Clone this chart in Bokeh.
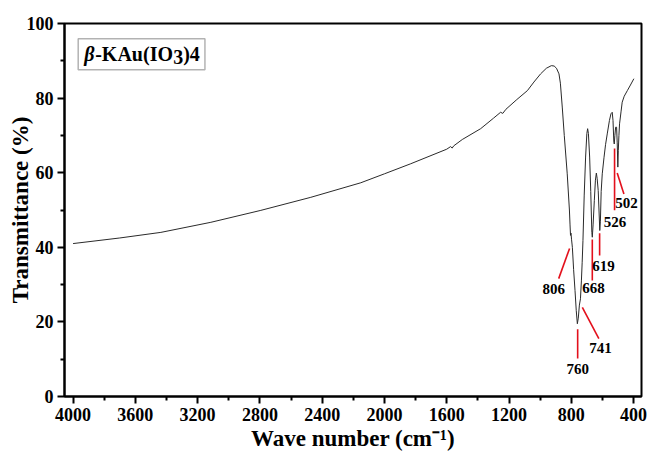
from bokeh.plotting import figure
from bokeh.models import Range1d, FixedTicker, Label, BoxAnnotation
from bokeh.embed import file_html
from bokeh.resources import INLINE
from bokeh.core.properties import value

# ---- spectrum (wavenumber in cm^-1, transmittance in %) ----
wavenumber = [4000, 3700, 3436, 3115, 2794, 2473, 2152, 2000, 1831, 1600, 1575, 1565, 1555,
              1500, 1382, 1300, 1254, 1240, 1220, 1150, 1082, 1040, 997, 960, 928, 910,
              895, 879, 870, 858, 845, 826, 812, 808, 805, 802, 798, 793, 785, 776, 768,
              761, 755, 748, 741, 735, 730, 725, 717, 708, 700, 695, 690, 682, 675, 668,
              665, 660, 652, 645, 639, 634, 627, 622, 617, 613, 608, 601, 590, 580, 569,
              555, 545, 537, 532, 527, 524, 520, 515, 509, 505, 501, 498, 494, 490, 480,
              473, 460, 440, 420, 398]
transmittance = [41.0, 42.5, 44.0, 46.7, 49.9, 53.4, 57.3, 59.7, 62.4, 66.3, 67.0, 66.6, 67.2,
                 68.9, 71.8, 74.6, 76.2, 75.9, 77.0, 79.6, 82.0, 84.3, 86.5, 88.0, 88.7, 88.6,
                 88.0, 86.5, 84.0, 77.6, 70.0, 59.7, 50.0, 46.0, 43.2, 43.8, 42.0, 40.0, 34.0,
                 28.4, 23.0, 19.5, 21.0, 24.5, 26.2, 31.0, 36.0, 41.8, 54.0, 64.2, 70.5, 71.8,
                 70.5, 64.2, 55.0, 44.0, 42.7, 46.0, 52.5, 58.0, 59.9, 58.5, 55.2, 50.0, 44.5,
                 47.0, 55.0, 59.7, 64.0, 67.5, 70.4, 74.0, 75.8, 76.2, 74.0, 68.5, 67.7, 70.0,
                 72.2, 72.2, 68.0, 61.5, 66.0, 70.0, 73.1, 76.5, 78.9, 80.5, 82.0, 83.5, 85.2]

# ---- axes ----
x_ticks = [4000, 3600, 3200, 2800, 2400, 2000, 1600, 1200, 800, 400]
x_minor = [3800, 3400, 3000, 2600, 2200, 1800, 1400, 1000, 600]
y_ticks = [0, 20, 40, 60, 80, 100]
y_minor = [10, 30, 50, 70, 90]

# ---- peak annotations ----
peak_labels = ["806", "760", "741", "668", "619", "526", "502"]
mark_x0 = [811, 759, 729, 665, 618, 522, 505]
mark_y0 = [39.7, 18.0, 23.9, 42.1, 43.8, 66.5, 59.9]
mark_x1 = [881, 759, 623, 665, 618, 522, 462]
mark_y1 = [31.6, 10.2, 15.5, 31.1, 37.8, 49.9, 54.3]
label_x = [913, 759, 612, 657, 593, 520, 445]
label_y = [28.7, 7.5, 12.9, 29.0, 35.1, 46.9, 51.8]

FONT = "Liberation Serif"

p = figure(width=648, height=454,
           x_range=Range1d(4055, 349), y_range=Range1d(0, 100),
           output_backend="svg", toolbar_location=None,
           min_border_left=64, min_border_right=7, min_border_top=23, min_border_bottom=58)
p.background_fill_color = "white"
p.border_fill_color = "white"
p.xgrid.visible = False
p.ygrid.visible = False
p.outline_line_color = "black"
p.outline_line_width = 2

p.xaxis.ticker = FixedTicker(ticks=x_ticks, minor_ticks=x_minor)
p.yaxis.ticker = FixedTicker(ticks=y_ticks, minor_ticks=y_minor)
p.xaxis.axis_label = "Wave number (cm⁻¹)"
p.yaxis.axis_label = "Transmittance (%)"

for ax in (p.xaxis[0], p.yaxis[0]):
    ax.axis_line_width = 2
    ax.axis_line_color = "black"
    ax.major_tick_line_width = 2
    ax.major_tick_line_color = "black"
    ax.major_tick_out = 7
    ax.major_tick_in = 0
    ax.minor_tick_line_width = 2
    ax.minor_tick_line_color = "black"
    ax.minor_tick_out = 4
    ax.minor_tick_in = 0
    ax.major_label_text_font = FONT
    ax.major_label_text_font_style = "bold"
    ax.major_label_text_font_size = "18px"
    ax.major_label_text_color = "black"
    ax.major_label_standoff = 4
    ax.axis_label_text_font = FONT
    ax.axis_label_text_font_style = "bold"
    ax.axis_label_text_font_size = "23px"
    ax.axis_label_text_color = "black"
    ax.axis_label_standoff = 2
p.yaxis[0].axis_label_standoff = -9

p.line(wavenumber, transmittance, line_color="#2a2a2a", line_width=1)

p.segment(x0=mark_x0, y0=mark_y0, x1=mark_x1, y1=mark_y1, line_color="#e3101c", line_width=1.6)
p.text(x=label_x, y=label_y, text=peak_labels, text_font=value(FONT), text_font_style="bold",
       text_font_size="15px", text_align="center", text_baseline="middle", text_color="black")

# ---- sample name box ----
box = BoxAnnotation(left=3153, right=3967, bottom=87.6, top=95.9,
                    fill_alpha=0, line_color="black", line_width=1.5)
p.add_layout(box)
bx, by = 3967, 91.75
parts = [("β", "bold italic", 6, 0), ("-KAu(IO", "bold", 17, 0), ("3", "bold", 95, -3), (")4", "bold", 105, 0)]
for txt, style, dx, dy in parts:
    p.add_layout(Label(x=bx, y=by, text=txt, x_offset=dx, y_offset=dy,
                       text_font=FONT, text_font_style=style, text_font_size="20px",
                       text_baseline="middle", text_align="left", text_color="black"))

open("out.html", "w").write(file_html(p, INLINE))
